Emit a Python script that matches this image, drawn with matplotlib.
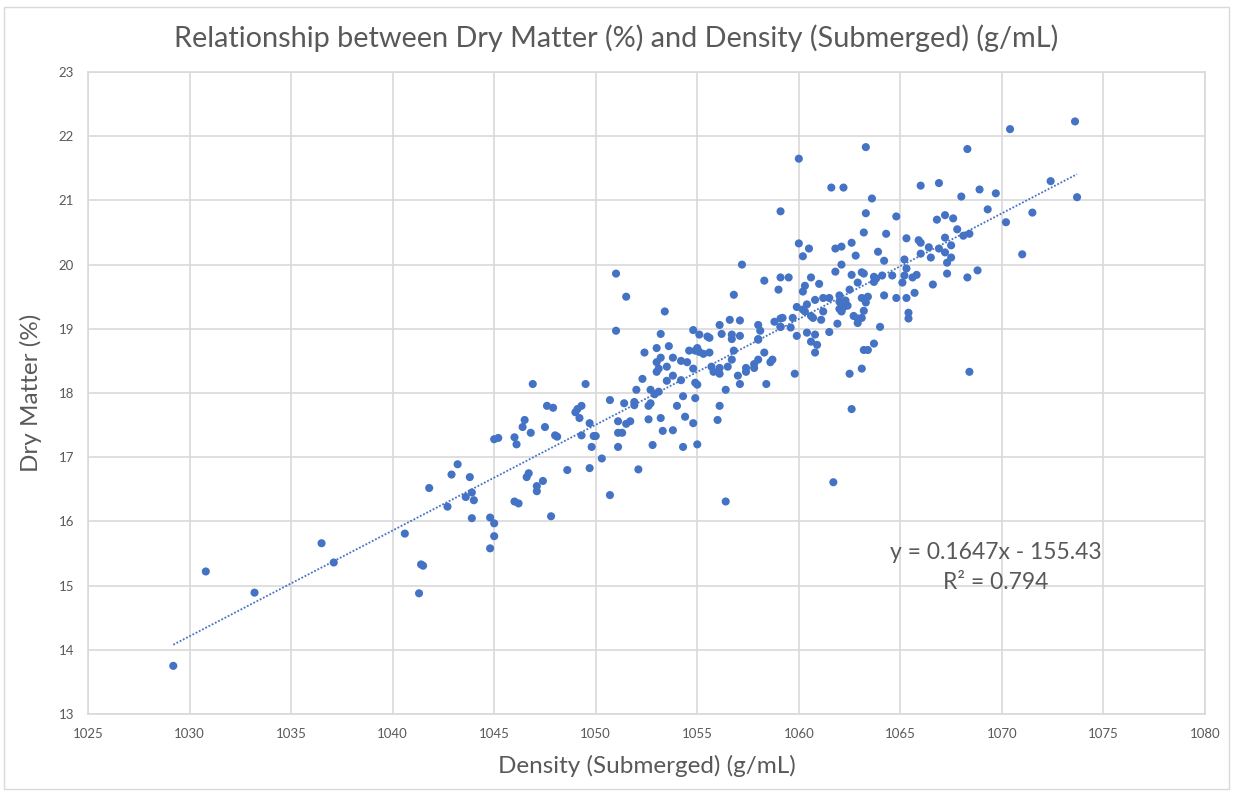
import matplotlib
matplotlib.use("Agg")
from matplotlib import pyplot as plt
from matplotlib.patches import Rectangle
import numpy as np

# density (g/mL) and dry matter (%)
density = [
    1029.2, 1030.8, 1033.2, 1036.5, 1037.1, 1040.6, 1041.4, 1041.5, 1041.3, 1041.8,
    1042.7, 1042.9, 1043.2, 1043.6, 1043.8, 1043.9, 1044.0, 1043.9,
    1046.9, 1049.5, 1047.6, 1047.9, 1046.5, 1046.4, 1046.8, 1047.5, 1048.0, 1048.1,
    1045.0, 1045.2, 1046.0, 1046.1, 1049.0, 1049.1, 1049.3, 1049.2, 1049.7, 1049.3,
    1049.9, 1050.0, 1049.8, 1049.7, 1048.6, 1047.8, 1046.7, 1046.6, 1047.4, 1047.1,
    1047.1, 1046.0, 1046.2, 1044.8, 1045.0, 1045.0, 1044.8,
    1050.3, 1050.7, 1050.7, 1051.4, 1051.9, 1051.9, 1051.1, 1051.5, 1051.7, 1051.1,
    1051.3, 1051.1, 1052.1, 1052.6, 1053.2, 1053.3, 1053.8, 1052.8, 1054.3, 1054.8,
    1054.4, 1054.0, 1054.3, 1054.9, 1052.7, 1052.0, 1052.9, 1053.1, 1052.6, 1052.7,
    1052.3, 1052.4, 1053.0, 1053.2, 1053.0, 1053.1, 1053.5, 1053.8, 1053.5, 1053.8,
    1054.2, 1054.5, 1054.2, 1054.8, 1054.9, 1055.0, 1055.0, 1054.6, 1054.9, 1051.0,
    1051.5, 1051.0, 1053.4, 1054.8, 1055.1, 1053.2, 1053.0, 1053.6, 1055.0, 1055.1,
    1055.3,
    1057.2, 1058.3, 1056.8, 1059.1, 1059.0, 1056.1, 1056.6, 1057.1, 1056.2, 1056.7,
    1056.7, 1057.1, 1058.0, 1058.1, 1058.0, 1058.0, 1058.8, 1059.1, 1059.1, 1055.5,
    1055.6, 1055.6, 1055.7, 1055.8, 1056.1, 1056.1, 1056.5, 1056.7, 1056.8, 1057.0,
    1057.1, 1057.4, 1057.4, 1057.8, 1057.8, 1058.0, 1058.3, 1058.7, 1058.6, 1058.4,
    1056.4, 1056.1, 1056.0, 1056.4, 1059.8,
    1061.7, 1062.6, 1062.5, 1063.1, 1068.4, 1061.6, 1062.2, 1066.0, 1066.9, 1063.6,
    1059.1, 1063.3, 1064.8, 1066.8, 1067.2, 1063.2, 1064.3, 1065.3, 1065.9, 1066.0,
    1067.2, 1060.0, 1060.5, 1060.2, 1061.8, 1062.1, 1062.6, 1062.8, 1063.9, 1066.4,
    1066.9, 1066.0, 1066.5, 1067.2, 1064.2, 1065.2, 1067.3, 1062.1, 1061.8, 1062.6,
    1063.1, 1063.2, 1063.7, 1064.1, 1064.6, 1065.3, 1065.2, 1065.6, 1065.8, 1067.3,
    1059.5, 1060.3, 1060.2, 1060.6, 1061.0, 1062.9, 1063.7, 1063.8, 1065.1, 1066.6,
    1060.8, 1061.2, 1061.5, 1062.0, 1062.0, 1062.3, 1062.4, 1062.2, 1062.5, 1062.1,
    1062.0, 1063.1, 1063.4, 1063.3, 1063.2, 1064.2, 1064.8, 1065.3, 1065.7, 1062.7,
    1062.9, 1063.1, 1062.9, 1061.9, 1062.1, 1064.0, 1065.4, 1065.4, 1059.9, 1060.2,
    1060.4, 1060.3, 1059.2, 1059.1, 1059.7, 1059.6, 1060.6, 1060.7, 1061.1, 1061.2,
    1059.9, 1060.4, 1060.8, 1060.6, 1060.9, 1060.8, 1061.5, 1063.2, 1063.4, 1063.7,
    1063.3, 1068.3, 1070.4, 1073.6, 1068.0, 1068.9, 1069.7, 1072.4, 1073.7, 1069.3,
    1071.5, 1070.2, 1071.0, 1067.6, 1067.8, 1068.1, 1068.4, 1067.5, 1067.5, 1068.3,
    1068.8, 1060.0,
]
dry_matter = [
    13.75, 15.22, 14.89, 15.66, 15.36, 15.81, 15.33, 15.31, 14.88, 16.52,
    16.23, 16.73, 16.89, 16.38, 16.69, 16.45, 16.33, 16.05,
    18.14, 18.14, 17.80, 17.77, 17.58, 17.47, 17.38, 17.47, 17.34, 17.32,
    17.28, 17.30, 17.31, 17.20, 17.70, 17.75, 17.80, 17.61, 17.53, 17.34,
    17.33, 17.33, 17.16, 16.83, 16.80, 16.08, 16.75, 16.69, 16.63, 16.55,
    16.47, 16.31, 16.28, 16.06, 15.97, 15.77, 15.58,
    16.98, 16.41, 17.89, 17.84, 17.86, 17.81, 17.56, 17.52, 17.56, 17.38,
    17.38, 17.16, 16.81, 17.59, 17.61, 17.41, 17.42, 17.19, 17.16, 17.53,
    17.63, 17.80, 17.95, 17.92, 18.05, 18.05, 17.98, 18.02, 17.80, 17.84,
    18.22, 18.63, 18.48, 18.55, 18.33, 18.38, 18.41, 18.55, 18.19, 18.27,
    18.50, 18.48, 18.20, 18.38, 18.16, 18.13, 17.20, 18.66, 18.66, 19.86,
    19.50, 18.97, 19.27, 18.98, 18.91, 18.92, 18.70, 18.73, 18.70, 18.64,
    18.61,
    20.00, 19.75, 19.53, 19.80, 19.61, 19.06, 19.14, 19.13, 18.92, 18.91,
    18.84, 18.89, 19.06, 18.97, 18.84, 18.83, 19.11, 19.16, 19.03, 18.88,
    18.86, 18.63, 18.41, 18.33, 18.39, 18.30, 18.41, 18.52, 18.66, 18.27,
    18.14, 18.39, 18.33, 18.39, 18.45, 18.52, 18.63, 18.52, 18.48, 18.14,
    18.05, 17.80, 17.58, 16.31, 18.30,
    16.61, 17.75, 18.30, 18.38, 18.33, 21.20, 21.20, 21.23, 21.27, 21.03,
    20.83, 20.80, 20.75, 20.70, 20.77, 20.50, 20.48, 20.41, 20.38, 20.34,
    20.42, 20.33, 20.25, 20.13, 20.25, 20.28, 20.34, 20.14, 20.20, 20.27,
    20.25, 20.17, 20.11, 20.19, 20.06, 20.08, 20.03, 20.00, 19.89, 19.84,
    19.88, 19.86, 19.81, 19.83, 19.83, 19.94, 19.83, 19.80, 19.84, 19.86,
    19.80, 19.67, 19.58, 19.80, 19.70, 19.72, 19.73, 19.78, 19.72, 19.69,
    19.45, 19.48, 19.48, 19.52, 19.42, 19.44, 19.36, 19.34, 19.61, 19.28,
    19.31, 19.48, 19.50, 19.41, 19.28, 19.52, 19.48, 19.48, 19.56, 19.20,
    19.16, 19.17, 19.09, 19.08, 19.27, 19.03, 19.25, 19.16, 19.34, 19.30,
    19.38, 19.27, 19.17, 19.03, 19.17, 19.02, 19.20, 19.17, 19.14, 19.27,
    18.89, 18.94, 18.91, 18.80, 18.75, 18.63, 18.95, 18.67, 18.67, 18.77,
    21.83, 21.80, 22.11, 22.23, 21.06, 21.17, 21.11, 21.30, 21.05, 20.86,
    20.81, 20.66, 20.16, 20.72, 20.55, 20.45, 20.48, 20.30, 20.11, 19.80,
    19.91, 21.65,
]

# linear trendline shown on the chart
slope = 0.1647
intercept = -155.43
r_squared = 0.794

x_ticks = [1025, 1030, 1035, 1040, 1045, 1050, 1055, 1060, 1065, 1070, 1075, 1080]
y_ticks = [13, 14, 15, 16, 17, 18, 19, 20, 21, 22, 23]

blue = "#4472C4"
grid_gray = "#D9D9D9"
text_gray = "#595959"

plt.rcParams["font.family"] = ["Lato", "DejaVu Sans"]

fig = plt.figure(figsize=(12.33, 7.92), dpi=100)
ax = fig.add_axes([88 / 1233, 1 - 714 / 792, (1205 - 88) / 1233, (714 - 72) / 792])

ax.scatter(density, dry_matter, s=34, color=blue, edgecolors="none", zorder=3)

xs = np.array([min(density), max(density)])
ax.plot(xs, slope * xs + intercept, color=blue, linestyle=(0, (1, 1)), linewidth=1.3, zorder=2)

ax.set_xlim(1025, 1080)
ax.set_ylim(13, 23)
ax.set_xticks(x_ticks)
ax.set_yticks(y_ticks)
ax.grid(True, color=grid_gray, linewidth=1.2, zorder=0)
for s in ax.spines.values():
    s.set_color(grid_gray)
    s.set_linewidth(1.2)
ax.tick_params(length=0, labelsize=9.5, labelcolor=text_gray, pad=10)
ax.set_axisbelow(True)

ax.set_xlabel("Density (Submerged) (g/mL)", fontsize=17.5, color=text_gray, labelpad=11)
ax.set_ylabel("Dry Matter (%)", fontsize=17.5, color=text_gray, labelpad=12)
fig.text(0.5, 1 - 38 / 792,
         "Relationship between Dry Matter (%) and Density (Submerged) (g/mL)",
         ha="center", va="center", fontsize=20.8, color=text_gray)

sign = "-" if intercept < 0 else "+"
ax.text(1069.7, 15.28, f"y = {slope}x {sign} {abs(intercept)}\nR² = {r_squared}",
        ha="center", va="center", fontsize=16.5, color=text_gray, linespacing=1.55)

fig.patches.append(Rectangle((4 / 1233, 3 / 792), 1225 / 1233, 782 / 792,
                             transform=fig.transFigure, fill=False,
                             edgecolor=grid_gray, linewidth=1))

fig.savefig("out.png", dpi=100)
